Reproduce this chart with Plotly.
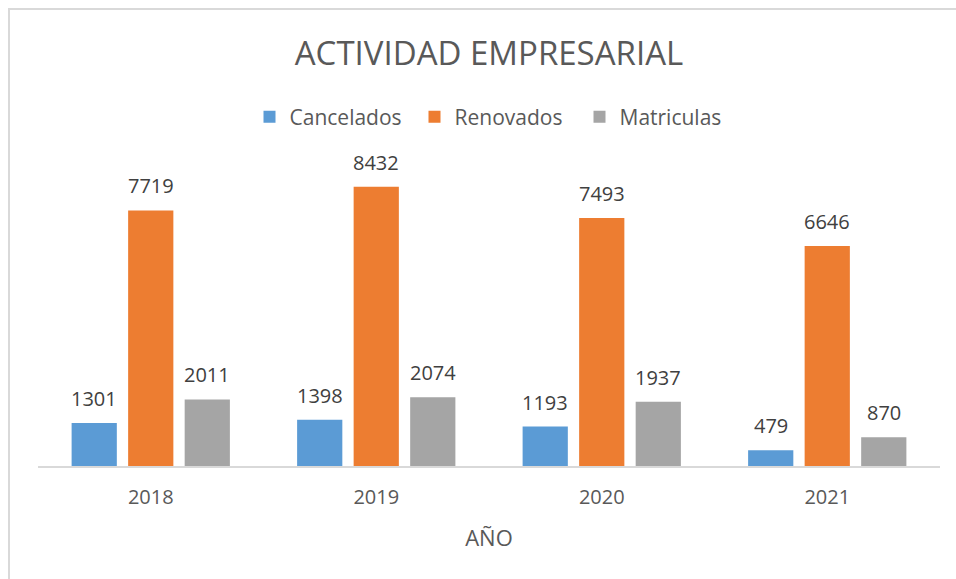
import plotly.graph_objects as go

years = ["2018", "2019", "2020", "2021"]
cancelados = [1301, 1398, 1193, 479]
renovados = [7719, 8432, 7493, 6646]
matriculas = [2011, 2074, 1937, 870]

series = [
    ("Cancelados", cancelados, "#5B9BD5"),
    ("Renovados", renovados, "#ED7D31"),
    ("Matriculas", matriculas, "#A5A5A5"),
]

W, H = 956, 579
ML, MR, MT, MB = 38, 16, 168, 113
PW = W - ML - MR
PH = H - MT - MB
BARGAP = 0.248
FONT = "Open Sans"

fig = go.Figure()
for name, vals, col in series:
    fig.add_trace(go.Bar(x=years, y=vals, name=name, marker=dict(color=col, line=dict(width=0))))

annotations = []
n = len(series)
for j, (name, vals, col) in enumerate(series):
    for i, v in enumerate(vals):
        annotations.append(dict(
            x=i + (j - (n - 1) / 2) * (1 - BARGAP) / n, y=v, xref="x", yref="y",
            text=str(v), showarrow=False, yanchor="bottom", yshift=9,
            font=dict(family=FONT, size=20, color="#404040")))

fig.update_layout(
    width=W, height=H,
    margin=dict(l=ML, r=MR, t=MT, b=MB, pad=0),
    paper_bgcolor="white", plot_bgcolor="white",
    barmode="group", bargap=BARGAP, bargroupgap=0.2,
    title=dict(text="ACTIVIDAD EMPRESARIAL", x=0.5, xref="paper", xanchor="center",
               y=1 - 53 / H, yref="container", yanchor="middle",
               font=dict(family=FONT, size=33, color="#595959")),
    legend=dict(orientation="h", x=0.5 + 8 / PW, xanchor="center", y=(H - MB - 117) / PH, yanchor="middle",
                entrywidth=120, entrywidthmode="pixels",
                font=dict(family=FONT, size=21, color="#595959"), bgcolor="rgba(0,0,0,0)"),
    xaxis=dict(showline=True, linecolor="#D9D9D9", linewidth=1.5, ticks="", showgrid=False,
               tickfont=dict(family=FONT, size=20, color="#595959"), ticklabelstandoff=12,
               title=dict(text="AÑO", font=dict(family=FONT, size=22, color="#595959"), standoff=22),
               zeroline=False),
    yaxis=dict(visible=False, range=[0, 9000], showgrid=False, zeroline=False),
    annotations=annotations,
    shapes=[dict(type="rect", xref="paper", yref="paper",
                 x0=(9 - ML) / PW, x1=(W + 20 - ML) / PW,
                 y0=-(H + 20 - MT - PH) / PH, y1=(H - MB - 9) / PH,
                 line=dict(color="#D9D9D9", width=2), fillcolor="rgba(0,0,0,0)", layer="below")],
)

fig.write_html("out.html", config={"displayModeBar": False},
               post_script="document.body.style.margin='0';document.body.style.overflow='hidden';")
